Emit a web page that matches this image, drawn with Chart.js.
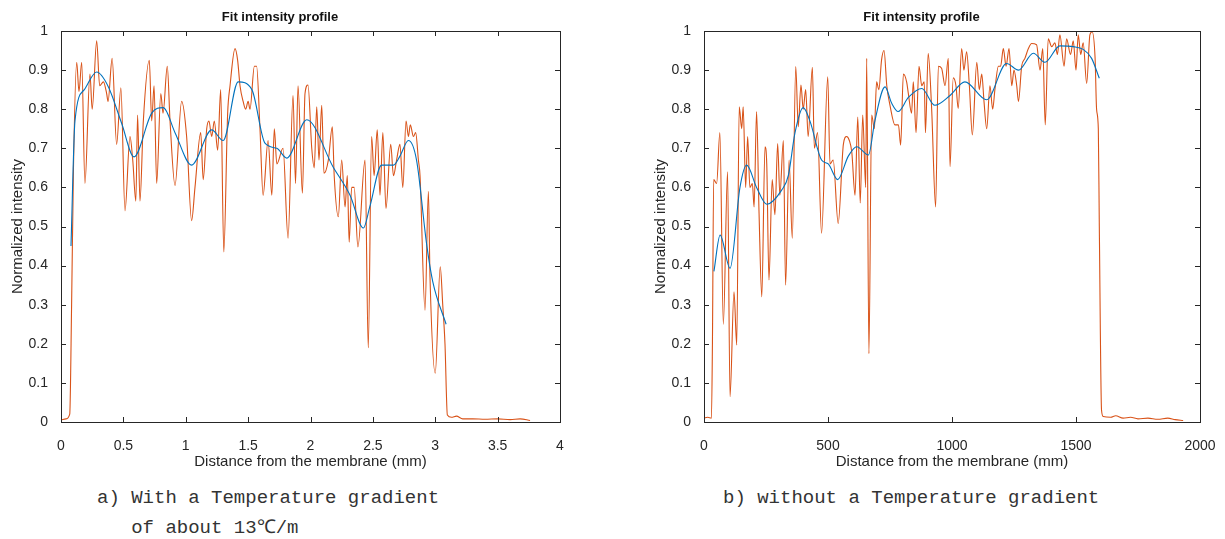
<!DOCTYPE html>
<html>
<head>
<meta charset="utf-8">
<script src="https://cdn.jsdelivr.net/npm/chart.js@4.4.1/dist/chart.umd.min.js"></script>
<style>
  html, body { margin: 0; padding: 0; background: #fff; overflow: hidden; }
  body { width: 1225px; height: 539px; position: relative; }
  canvas { position: absolute; top: 0; }
  #chartA { left: 0; }
  #chartB { left: 643px; }
  .caption {
    position: absolute;
    font-family: "Liberation Mono", "DejaVu Sans Mono", monospace;
    font-size: 19px;
    color: #333;
    white-space: pre;
    line-height: 30px;
  }
</style>
</head>
<body>
<canvas id="chartA" width="621" height="480"></canvas>
<canvas id="chartB" width="618" height="480"></canvas>
<div class="caption" style="left:97px; top:483px;">a) With a Temperature gradient
   of about 13℃/m</div>
<div class="caption" style="left:723px; top:483px;">b) without a Temperature gradient</div>

<script>
// Panel a: with a temperature gradient (distance in mm, 0..4)
const aRawX = [0, 0.04, 0.07, 0.085, 0.1, 0.126, 0.144, 0.166, 0.192, 0.232, 0.25, 0.286, 0.31, 0.34, 0.366, 0.377,
  0.41, 0.446, 0.48, 0.513, 0.553, 0.575, 0.6, 0.614, 0.633, 0.66, 0.708, 0.727, 0.746, 0.767, 0.8, 0.818, 0.852,
  0.874, 0.914, 0.967, 1.007, 1.047, 1.074, 1.12, 1.14, 1.168, 1.186, 1.208, 1.229, 1.256, 1.28, 1.305, 1.336,
  1.355, 1.395, 1.416, 1.435, 1.46, 1.48, 1.5, 1.515, 1.55, 1.568, 1.595, 1.62, 1.66, 1.69, 1.71, 1.73, 1.78,
  1.82, 1.86, 1.88, 1.9, 1.935, 1.956, 1.98, 2.01, 2.03, 2.05, 2.068, 2.09, 2.108, 2.143, 2.175, 2.19, 2.223,
  2.25, 2.277, 2.295, 2.31, 2.33, 2.35, 2.38, 2.437, 2.463, 2.49, 2.51, 2.535, 2.557, 2.58, 2.605, 2.643, 2.665,
  2.69, 2.717, 2.74, 2.766, 2.785, 2.8, 2.825, 2.843, 2.865, 2.878, 2.918, 2.945, 2.958, 3.0, 3.04, 3.06, 3.078,
  3.097, 3.13, 3.17, 3.22, 3.3, 3.4, 3.5, 3.6, 3.68, 3.76];
const aRawY = [0.005, 0.008, 0.02, 0.3, 0.65, 0.92, 0.845, 0.92, 0.61, 0.89, 0.8, 0.975, 0.86, 0.87, 0.84, 0.82,
  0.93, 0.71, 0.855, 0.54, 0.73, 0.67, 0.565, 0.785, 0.565, 0.77, 0.925, 0.77, 0.86, 0.61, 0.84, 0.79, 0.91,
  0.77, 0.605, 0.82, 0.73, 0.515, 0.6, 0.74, 0.62, 0.75, 0.77, 0.73, 0.77, 0.695, 0.85, 0.435, 0.79,
  0.86, 0.955, 0.925, 0.86, 0.82, 0.8, 0.82, 0.8, 0.91, 0.91, 0.75, 0.58, 0.72, 0.58, 0.75, 0.66, 0.7,
  0.47, 0.835, 0.61, 0.86, 0.585, 0.84, 0.862, 0.7, 0.65, 0.806, 0.67, 0.81, 0.636, 0.67, 0.755, 0.63, 0.525,
  0.67, 0.55, 0.63, 0.46, 0.6, 0.6, 0.448, 0.67, 0.19, 0.73, 0.63, 0.747, 0.58, 0.74, 0.546, 0.71, 0.63,
  0.67, 0.71, 0.6, 0.77, 0.73, 0.76, 0.73, 0.74, 0.67, 0.63, 0.286, 0.59, 0.37, 0.125, 0.397, 0.3, 0.2,
  0.018, 0.012, 0.015, 0.008, 0.008, 0.007, 0.008, 0.006, 0.008, 0.004];
const aFitX = [0.08, 0.112, 0.187, 0.286, 0.38, 0.486, 0.585, 0.727, 0.82, 0.914, 1.047, 1.208, 1.3, 1.42, 1.53,
  1.635, 1.73, 1.81, 1.97, 2.18, 2.317, 2.424, 2.475, 2.57, 2.665, 2.717, 2.785, 2.85, 2.93, 2.98, 3.087];
const aFitY = [0.45, 0.77, 0.85, 0.895, 0.857, 0.764, 0.678, 0.79, 0.804, 0.74, 0.657, 0.747, 0.72, 0.87, 0.85,
  0.713, 0.7, 0.675, 0.773, 0.653, 0.58, 0.496, 0.55, 0.657, 0.657, 0.68, 0.72, 0.67, 0.457, 0.359, 0.25];

// Panel b: without a temperature gradient (distance in mm, 0..2000)
const bRawX = [0, 15, 30, 34, 39, 51, 64, 78, 95, 105, 121, 132, 142, 152, 158, 168, 176, 185, 195, 202, 212, 222,
  233, 246, 253, 262, 275, 286, 297, 306, 320, 329, 343, 356, 370, 380, 391, 400, 410, 420, 437, 445, 458, 474,
  499, 508, 521, 541, 562, 575, 586, 596, 609, 620, 630, 640, 652, 656, 665, 676, 687, 696, 705, 716, 726, 737,
  750, 770, 784, 793, 804, 817, 824, 837, 844, 855, 867, 878, 888, 893, 904, 918, 934, 945, 958, 972, 985, 992,
  1005, 1016, 1025, 1039, 1048, 1059, 1070, 1082, 1100, 1110, 1120, 1129, 1140, 1153, 1164, 1173, 1187, 1196,
  1207, 1218, 1230, 1241, 1250, 1261, 1268, 1281, 1294, 1308, 1321, 1341, 1355, 1366, 1376, 1388, 1402, 1415,
  1425, 1435, 1452, 1462, 1478, 1489, 1500, 1509, 1519, 1529, 1543, 1556, 1565, 1577, 1583, 1590, 1594, 1603,
  1610, 1640, 1660, 1690, 1720, 1750, 1790, 1830, 1870, 1900, 1932];
const bRawY = [0.01, 0.012, 0.01, 0.2, 0.62, 0.61, 0.74, 0.25, 0.64, 0.065, 0.333, 0.197, 0.806, 0.75, 0.806, 0.6,
  0.73, 0.6, 0.61, 0.55, 0.794, 0.534, 0.32, 0.704, 0.66, 0.363, 0.62, 0.53, 0.712, 0.58, 0.72, 0.35, 0.67, 0.47,
  0.909, 0.755, 0.862, 0.8, 0.85, 0.73, 0.907, 0.7, 0.74, 0.483, 0.883, 0.66, 0.67, 0.508, 0.71, 0.73, 0.72, 0.69,
  0.58, 0.78, 0.56, 0.785, 0.6, 0.93, 0.175, 0.785, 0.75, 0.87, 0.85, 0.926, 0.95, 0.86, 0.81, 0.76, 0.76, 0.708,
  0.89, 0.87, 0.84, 0.79, 0.87, 0.74, 0.91, 0.86, 0.87, 0.74, 0.943, 0.8, 0.55, 0.91, 0.905, 0.86, 0.93, 0.653,
  0.88, 0.86, 0.802, 0.955, 0.9, 0.947, 0.86, 0.734, 0.92, 0.85, 0.89, 0.82, 0.75, 0.86, 0.8, 0.85, 0.91, 0.91,
  0.955, 0.91, 0.955, 0.86, 0.9, 0.86, 0.82, 0.91, 0.93, 0.955, 0.968, 0.965, 0.9, 0.955, 0.76, 0.98, 0.96, 0.97,
  0.94, 0.99, 0.91, 0.98, 0.94, 0.975, 0.9, 0.99, 0.94, 0.97, 0.866, 0.99, 0.998, 0.93, 0.8, 0.75, 0.5, 0.03,
  0.014, 0.012, 0.016, 0.01, 0.012, 0.008, 0.01, 0.007, 0.01, 0.006, 0.004];
const bFitX = [40, 65, 105, 145, 172, 212, 253, 313, 340, 367, 400, 427, 474, 501, 539, 582, 616, 663, 689, 730,
  757, 783, 824, 878, 931, 992, 1052, 1140, 1220, 1268, 1328, 1375, 1435, 1489, 1529, 1563, 1594];
const bFitY = [0.385, 0.478, 0.393, 0.6, 0.657, 0.6, 0.557, 0.593, 0.63, 0.74, 0.804, 0.77, 0.67, 0.66, 0.62, 0.68,
  0.704, 0.683, 0.77, 0.857, 0.815, 0.794, 0.83, 0.853, 0.81, 0.835, 0.87, 0.824, 0.917, 0.9, 0.943, 0.92, 0.962,
  0.96, 0.953, 0.93, 0.879];

const yTicks = [0, 0.1, 0.2, 0.3, 0.4, 0.5, 0.6, 0.7, 0.8, 0.9, 1];

const RED = '#D95319';
const BLUE = '#0072BD';
const INK = '#262626';
const SANS = '"Liberation Sans", Arial, sans-serif';

function pts(xs, ys) {
  return xs.map((x, i) => ({ x: x, y: ys[i] }));
}

// MATLAB-like box with inward ticks on all four sides
const boxPlugin = {
  id: 'matlabBox',
  afterDraw(chart) {
    const { ctx, chartArea: a, scales } = chart;
    ctx.save();
    ctx.strokeStyle = INK;
    ctx.lineWidth = 1;
    ctx.strokeRect(Math.round(a.left) + 0.5, Math.round(a.top) + 0.5,
      Math.round(a.right - a.left), Math.round(a.bottom - a.top));
    ctx.beginPath();
    scales.x.ticks.forEach(t => {
      const px = Math.round(scales.x.getPixelForValue(t.value)) + 0.5;
      ctx.moveTo(px, a.bottom); ctx.lineTo(px, a.bottom - 5);
      ctx.moveTo(px, a.top); ctx.lineTo(px, a.top + 5);
    });
    scales.y.ticks.forEach(t => {
      const py = Math.round(scales.y.getPixelForValue(t.value)) + 0.5;
      ctx.moveTo(a.left, py); ctx.lineTo(a.left + 5, py);
      ctx.moveTo(a.right, py); ctx.lineTo(a.right - 5, py);
    });
    ctx.stroke();
    ctx.restore();
  }
};

function makeChart(id, raw, fit, xMax, xStep) {
  const ctx = document.getElementById(id).getContext('2d');
  return new Chart(ctx, {
    type: 'line',
    data: {
      datasets: [
        {
          data: fit, borderColor: BLUE, borderWidth: 1.1, pointRadius: 0,
          cubicInterpolationMode: 'monotone', order: 1
        },
        {
          data: raw, borderColor: RED, borderWidth: 1.1, pointRadius: 0,
          cubicInterpolationMode: 'monotone', order: 2
        }
      ]
    },
    options: {
      responsive: false,
      animation: false,
      layout: { padding: { left: 0, right: xMax === 4 ? 61 : 61, top: 0, bottom: 0 } },
      plugins: {
        legend: { display: false },
        tooltip: { enabled: false },
        title: {
          display: true,
          text: 'Fit intensity profile',
          color: '#111',
          font: { family: SANS, size: 13, weight: 'bold' },
          padding: { top: 10, bottom: 5.4 }
        }
      },
      scales: {
        x: {
          type: 'linear', min: 0, max: xMax,
          grid: { display: false }, border: { display: false },
          ticks: {
            stepSize: xStep, color: INK, padding: 8, maxRotation: 0,
            font: { family: SANS, size: 14 },
            callback: v => String(+v.toFixed(1))
          },
          title: {
            display: true, text: 'Distance from the membrane (mm)', color: INK,
            font: { family: SANS, size: 15 }, padding: { top: 0, bottom: 9 }
          },
          afterFit: s => { s.height = 58; }
        },
        y: {
          type: 'linear', min: 0, max: 1,
          grid: { display: false }, border: { display: false },
          afterBuildTicks: s => { s.ticks = yTicks.map(v => ({ value: v })); },
          ticks: {
            color: INK, padding: 5,
            font: { family: SANS, size: 14 },
            callback: v => String(+v.toFixed(1))
          },
          title: {
            display: true, text: 'Normalized intensity', color: INK,
            font: { family: SANS, size: 15 }, padding: { top: 9, bottom: 0 }
          },
          afterFit: s => { s.width = 61; }
        }
      }
    },
    plugins: [boxPlugin]
  });
}

makeChart('chartA', pts(aRawX, aRawY), pts(aFitX, aFitY), 4, 0.5);
makeChart('chartB', pts(bRawX, bRawY), pts(bFitX, bFitY), 2000, 500);
</script>
</body>
</html>
